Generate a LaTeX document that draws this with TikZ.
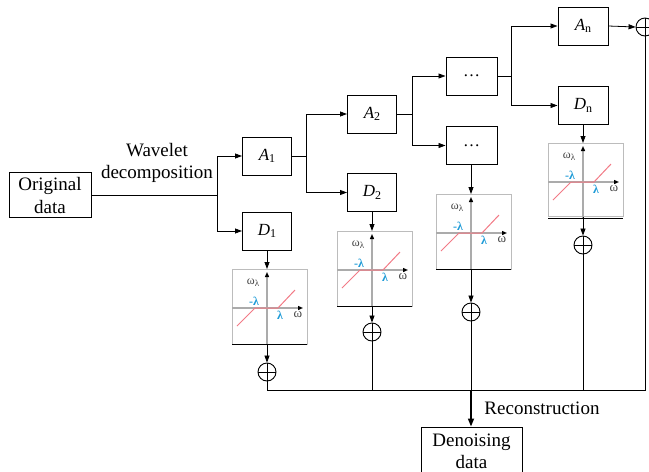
\documentclass[tikz,border=0pt]{standalone}
\usepackage{fontspec}
\setmainfont{Liberation Serif}
\usetikzlibrary{arrows.meta}
\definecolor{plotred}{HTML}{F27A86}
\definecolor{plotblue}{HTML}{1E9BD7}
\definecolor{axisgray}{HTML}{ABABAB}
\definecolor{txtgray}{HTML}{444444}
\newcommand\lab[2]{\textit{#1}\raisebox{-0.35ex}{\fontsize{12}{12}\selectfont #2}}
\newcommand\thplot[1]{%
  \begin{scope}[shift={(#1.north west)}]
    \draw[axisgray,line width=1.3pt,-{Triangle[length=5pt,width=4pt,black]}] (35,75) -- (35,3);
    \draw[axisgray,line width=1.3pt,-{Triangle[length=5pt,width=4pt,black]}] (0,39) -- (71,39);
    \draw[plotred,line width=1pt] (5,57) -- (23,39) -- (46,39) -- (63,21);
    \node[txtgray,font=\fontsize{12}{12}\selectfont,inner sep=0pt] (#1w) at (21,14) {ω\raisebox{-0.4ex}{\fontsize{9}{9}\selectfont λ}};
    \node[plotblue,font=\bfseries\fontsize{12}{12}\selectfont,inner sep=0pt] (#1m) at (22,32) {-λ};
    \node[plotblue,font=\bfseries\fontsize{12}{12}\selectfont,inner sep=0pt] (#1p) at (48,46) {λ};
    \node[txtgray,font=\fontsize{13}{13}\selectfont,inner sep=0pt] (#1o) at (66,46) {ω};
    \draw[black,line width=0.9pt] (0,75) -- (75,75);
  \end{scope}}
\tikzset{
  box/.style={draw,line width=1pt,minimum width=49pt,minimum height=38pt,inner sep=0pt,
    font=\fontsize{17}{20}\selectfont},
  plotbox/.style={draw=axisgray!80,line width=0.8pt,minimum width=75pt,minimum height=75pt,
    inner sep=0pt,anchor=north west},
  sum/.style={circle,draw,line width=0.9pt,minimum size=18pt,inner sep=0pt,
    path picture={\draw[line width=0.9pt] (path picture bounding box.north) -- (path picture bounding box.south)
      (path picture bounding box.west) -- (path picture bounding box.east);}},
  arr/.style={line width=0.8pt,-{Triangle[length=7pt,width=5pt]}},
  ln/.style={line width=0.8pt},
  txt/.style={font=\fontsize{19}{23}\selectfont,align=center,inner sep=0pt}
}
\begin{document}
\begin{tikzpicture}[x=1pt,y=-1pt]
\useasboundingbox (0,0) rectangle (649,472);
% main boxes
\node[box,minimum width=82pt,minimum height=45pt,txt,draw] (orig) at (50,195) {Original\\data};
\node[txt,font=\fontsize{19}{22}\selectfont] (wd) at (157,163) {Wavelet\\decomposition};
\node[box] (A1) at (267,156) {\lab{A}{1}};
\node[box] (D1) at (267,231) {\lab{D}{1}};
\node[box] (A2) at (372,114) {\lab{A}{2}};
\node[box] (D2) at (372,192.5) {\lab{D}{2}};
\node[box,minimum width=51pt] (d1) at (471.5,76) {\ldots};
\node[box,minimum width=51pt] (d2) at (471.5,145.5) {\ldots};
\node[box,minimum width=50pt] (An) at (583,26) {\lab{A}{n}};
\node[box,minimum width=50pt] (Dn) at (583,105.5) {\lab{D}{n}};
% plots
\node[plotbox] (p1) at (232,269) {};
\node[plotbox] (p2) at (337,231) {};
\node[plotbox] (p3) at (436,194) {};
\node[plotbox,minimum height=73pt] (p4) at (548,143) {};
\thplot{p1}\thplot{p2}\thplot{p3}\thplot{p4}
% sums
\node[sum] (s1) at (267,372) {};
\node[sum] (s2) at (372,332) {};
\node[sum] (s3) at (471,312) {};
\node[sum] (s4) at (583,245) {};
\node[sum] (sn) at (645,27) {};
% output
\node[draw,line width=1pt,minimum width=101pt,minimum height=48pt,txt,font=\fontsize{19}{22}\selectfont] (den) at (471.5,451) {Denoising\\data};
\node[txt] (rec) at (542,408) {Reconstruction};
% branch coordinates
\coordinate (b1) at (217,195);
\coordinate (b2) at (306,156);
\coordinate (b3) at (412,114);
\coordinate (b4) at (511,76);
\coordinate (bl) at (267,390);
\coordinate (br) at (645,390);
% decomposition connectors
\draw[ln] (orig.east) -- (b1);
\draw[arr] (b1) |- (A1.west);
\draw[arr] (b1) |- (D1.west);
\draw[ln] (A1.east) -- (b2);
\draw[arr] (b2) |- (A2.west);
\draw[arr] (b2) |- (D2.west);
\draw[ln] (A2.east) -- (b3);
\draw[arr] (b3) |- (d1.west);
\draw[arr] (b3) |- (d2.west);
\draw[ln] (d1.east) -- (b4);
\draw[arr] (b4) |- (An.west);
\draw[arr] (b4) |- (Dn.west);
\draw[arr] (An.east) -- (sn.west);
% detail branches
\draw[arr] (D1.south) -- (D1.south |- p1.north);
\draw[arr] (D1.south |- p1.south) -- (s1.north);
\draw[arr] (D2.south) -- (D2.south |- p2.north);
\draw[arr] (D2.south |- p2.south) -- (s2.north);
\draw[arr] (d2.south -| s3) -- (s3 |- p3.north);
\draw[arr] (s3 |- p3.south) -- (s3.north);
\draw[arr] (Dn.south) -- (Dn.south |- p4.north);
\draw[arr] (Dn.south |- p4.south) -- (s4.north);
% reconstruction
\draw[ln] (s1.south) -- (bl) -- (br) -- (sn.south);
\draw[ln] (s2.south) -- (s2 |- bl);
\draw[ln] (s3.south) -- (s3 |- bl);
\draw[ln] (s4.south) -- (s4 |- bl);
\draw[line width=1.6pt,-{Triangle[length=8pt,width=6pt]}] (s3 |- bl) -- (s3 |- den.north);
\end{tikzpicture}
\end{document}
